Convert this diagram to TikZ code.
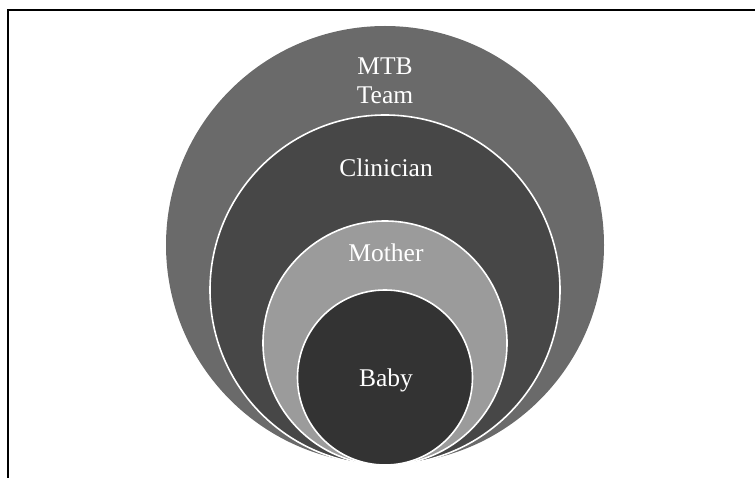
\documentclass[tikz,border=0pt]{standalone}
\usepackage{fontspec}
\setmainfont{Liberation Serif}
\definecolor{ringteam}{HTML}{6A6A6A}
\definecolor{ringclin}{HTML}{474747}
\definecolor{ringmother}{HTML}{9B9B9B}
\definecolor{ringbaby}{HTML}{333333}
\begin{document}
\begin{tikzpicture}[x=1pt,y=-1pt,
  ring/.style={circle,inner sep=0pt,draw=white,line width=1.6pt},
  label/.style={text=white,font=\fontsize{25.5}{29}\selectfont,align=center,inner sep=0pt}]
\useasboundingbox (0,0) rectangle (755,478);
% frame
\coordinate (ftop) at (755,10);
\coordinate (fcorner) at (8,10);
\coordinate (fbot) at (8,478);
\draw[line width=2pt,black] (ftop) -- (fcorner) -- (fbot);
% nested circles, all touching at the bottom
\node[ring,draw=none,fill=ringteam,minimum size=438pt] (team) at (385,245) {};
\node[ring,fill=ringclin,minimum size=350pt] (clin) at (385,290) {};
\node[ring,fill=ringmother,minimum size=244pt] (mother) at (385,343) {};
\node[ring,fill=ringbaby,minimum size=175pt] (baby) at (385,377.5) {};
% labels
\node[label] (tteam) at (385,81) {MTB\\Team};
\node[label] (tclin) at (386,168) {Clinician};
\node[label] (tmother) at (386,253) {Mother};
\node[label] (tbaby) at (386,380) {Baby};
\end{tikzpicture}
\end{document}
